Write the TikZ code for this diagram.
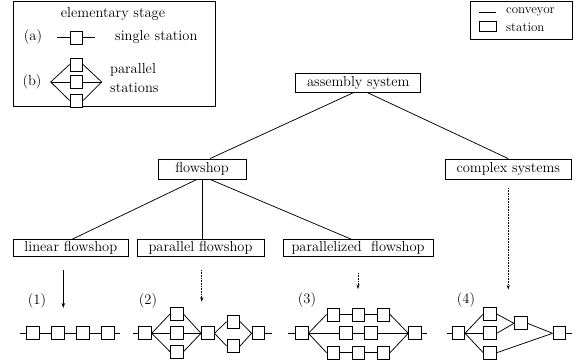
\documentclass[tikz,border=0pt]{standalone}
\usetikzlibrary{arrows.meta}
\begin{document}
\begin{tikzpicture}[x=1pt,y=-1pt,
  every node/.style={font=\fontsize{14.5}{16}\selectfont},
  tbox/.style={draw,line width=0.8pt,inner sep=0pt,text height=10.5pt,text depth=3.5pt},
  stn/.style={draw,line width=0.75pt,inner sep=0pt,minimum width=12.7pt,minimum height=13pt,fill=white},
  conv/.style={line width=0.75pt},
  tree/.style={line width=0.75pt},
  solidarrow/.style={line width=0.8pt,-{Stealth[length=5pt,width=3.5pt]}},
  dotarrow/.style={line width=0.6pt,densely dotted,-{Stealth[length=4.5pt,width=3.2pt]}},
  lbl/.style={inner sep=0pt},
  smalltxt/.style={inner sep=0pt,font=\fontsize{13}{15}\selectfont}
]
\useasboundingbox (0,0) rectangle (583,360);

% ---------- legend 1 ----------
\draw[line width=0.8pt] (13.3,1.7) rectangle (215,106);
\node[lbl] (ltitle) at (113,14) {elementary stage};
\node[lbl] (la) at (33,37) {(a)};
\coordinate (las) at (57.3,37.5);
\coordinate (lae) at (95,37.5);
\node[stn] (lsq) at (76.3,37.5) {};
\draw[conv] (las) -- (lsq) -- (lae);
\node[lbl,anchor=west] (lsingle) at (115,37) {single station};
\node[lbl] (lb) at (32,81.7) {(b)};
\coordinate (lbL) at (50.7,82);
\coordinate (lbR) at (101.7,82);
\node[stn] (lb1) at (76.3,64.5) {};
\node[stn] (lb2) at (76.3,82) {};
\node[stn] (lb3) at (76.3,100.5) {};
\foreach \s in {lb1,lb2,lb3}{
  \draw[conv] (lbL) -- (\s.west);
  \draw[conv] (\s.east) -- (lbR);
}
\node[lbl,anchor=west] (lpar) at (110,70) {parallel};
\node[lbl,anchor=west] (lstat) at (110,88) {stations};

% ---------- legend 2 ----------
\draw[line width=0.8pt] (470,1.7) rectangle (572.7,39.3);
\coordinate (cvs) at (479.3,12.7);
\coordinate (cve) at (495.7,12.7);
\draw[conv] (cvs) -- (cve);
\node[draw,line width=0.7pt,inner sep=0pt,minimum width=16.7pt,minimum height=10pt] (lstn) at (487.6,26.7) {};
\node[smalltxt,anchor=west] (tconv) at (506,12.3) {conveyor};
\node[smalltxt,anchor=west] (tstat) at (506,27) {station};

% ---------- tree ----------
\node[tbox,minimum width=125pt,minimum height=19pt] (asm) at (358.3,82.5) {assembly system};
\node[tbox,minimum width=88pt,minimum height=20pt] (flow) at (202,169) {flowshop};
\node[tbox,minimum width=125.3pt,minimum height=20pt] (cplx) at (508.3,169) {complex systems};
\node[tbox,minimum width=115pt,minimum height=17pt] (lin) at (70.8,248.3) {linear flowshop};
\node[tbox,minimum width=127pt,minimum height=17pt] (par) at (200.5,248.3) {parallel flowshop};
\node[tbox,minimum width=150pt,minimum height=17pt] (pzd) at (358,248.3) {parallelized~~flowshop};

\draw[tree] ([xshift=-4.3pt]asm.south) -- ([xshift=8pt]flow.north);
\draw[tree] ([xshift=8.7pt]asm.south) -- (cplx.north);
\draw[tree] ([xshift=-5pt]flow.south) -- ([xshift=1pt]lin.north);
\draw[tree] (flow.south) -- (flow.south |- par.north);
\draw[tree] ([xshift=8pt]flow.south) -- ([xshift=-6.3pt]pzd.north);

% ---------- arrows ----------
\coordinate (a1s) at (63.3,270);
\coordinate (a1e) at (63.3,308);
\coordinate (a2s) at (201.7,270);
\coordinate (a2e) at (201.7,301.7);
\coordinate (a3s) at (358,273);
\coordinate (a3e) at (358,289);
\coordinate (a4s) at (508.3,188);
\coordinate (a4e) at (508.3,289.5);
\draw[solidarrow] (a1s) -- (a1e);
\draw[dotarrow] (a2s) -- (a2e);
\draw[dotarrow] (a3s) -- (a3e);
\draw[dotarrow] (a4s) -- (a4e);

\node[lbl] (n1) at (37,301) {(1)};
\node[lbl] (n2) at (148,301) {(2)};
\node[lbl] (n3) at (307,300) {(3)};
\node[lbl] (n4) at (466,300) {(4)};

% ---------- (1) linear ----------
\coordinate (c1s) at (20,333.3);
\coordinate (c1e) at (120,333.3);
\node[stn] (s11) at (33,333.3) {};
\node[stn] (s12) at (58,333.3) {};
\node[stn] (s13) at (83,333.3) {};
\node[stn] (s14) at (108,333.3) {};
\draw[conv] (c1s) -- (s11) -- (s12) -- (s13) -- (s14) -- (c1e);

% ---------- (2) parallel ----------
\coordinate (c2s) at (133,333.3);
\coordinate (c2e) at (271.7,333.3);
\node[stn] (p2a) at (145,333.3) {};
\node[stn] (p2b1) at (176.7,314) {};
\node[stn] (p2b2) at (176.7,333.3) {};
\node[stn] (p2b3) at (176.7,351.7) {};
\node[stn] (p2c) at (207.7,333.3) {};
\node[stn] (p2d1) at (233.3,321.7) {};
\node[stn] (p2d2) at (233.3,346) {};
\node[stn] (p2e) at (258.3,333.3) {};
\draw[conv] (c2s) -- (p2a);
\foreach \s in {p2b1,p2b2,p2b3}{
  \draw[conv] (p2a.east) -- (\s.west);
  \draw[conv] (\s.east) -- (p2c.west);
}
\foreach \s in {p2d1,p2d2}{
  \draw[conv] (p2c.east) -- (\s.west);
  \draw[conv] (\s.east) -- (p2e.west);
}
\draw[conv] (p2e) -- (c2e);

% ---------- (3) parallelized ----------
\coordinate (c3s) at (288.3,333.3);
\coordinate (c3e) at (426.7,333.3);
\node[stn] (p3a) at (301.7,333.3) {};
\node[stn] (p3t1) at (333.3,314.5) {};
\node[stn] (p3t2) at (358.3,314.5) {};
\node[stn] (p3t3) at (383.3,314.5) {};
\node[stn] (p3m1) at (346,333.3) {};
\node[stn] (p3m2) at (371,333.3) {};
\node[stn] (p3u1) at (333.3,352.7) {};
\node[stn] (p3u2) at (358.3,352.7) {};
\node[stn] (p3u3) at (383.3,352.7) {};
\node[stn] (p3z) at (415,333.3) {};
\draw[conv] (c3s) -- (p3a);
\draw[conv] (p3a.east) -- (p3t1.west);
\draw[conv] (p3t1) -- (p3t2) -- (p3t3);
\draw[conv] (p3t3.east) -- (p3z.west);
\draw[conv] (p3a) -- (p3m1) -- (p3m2) -- (p3z);
\draw[conv] (p3a.east) -- (p3u1.west);
\draw[conv] (p3u1) -- (p3u2) -- (p3u3);
\draw[conv] (p3u3.east) -- (p3z.west);
\draw[conv] (p3z) -- (c3e);

% ---------- (4) complex ----------
\coordinate (c4s) at (446.7,333.3);
\coordinate (c4e) at (571.7,333.3);
\node[stn] (p4a) at (458.3,333.3) {};
\node[stn] (p4t) at (490,314) {};
\node[stn] (p4m) at (490,333.3) {};
\node[stn] (p4b) at (490,352.7) {};
\node[stn] (p4g) at (520.7,323.3) {};
\node[stn] (p4z) at (559.3,333.3) {};
\draw[conv] (c4s) -- (p4a);
\draw[conv] (p4a.east) -- (p4t.west);
\draw[conv] (p4a.east) -- (p4m.west);
\draw[conv] (p4a.east) -- (p4b.west);
\draw[conv] (p4t.east) -- (p4g.west);
\draw[conv] (p4m.east) -- (p4g.west);
\draw[conv] (p4g.east) -- (p4z.west);
\draw[conv] (p4b.east) -- (p4z.west);
\draw[conv] (p4z) -- (c4e);
\end{tikzpicture}
\end{document}
